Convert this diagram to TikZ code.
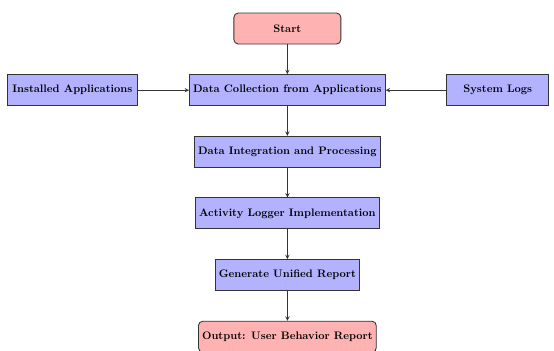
\documentclass[tikz,border=0pt]{standalone}
\usepackage{amsmath}
\usetikzlibrary{positioning, arrows.meta}

\begin{document}
\begin{tikzpicture}[
	node distance=0.96cm,
	startstop/.style={rectangle, rounded corners, minimum width=3.45cm, minimum height=1cm, text centered, draw=black!80, thick, fill=red!30, font=\bfseries},
	process/.style={rectangle, minimum width=3.3cm, minimum height=1cm, text centered, draw=black!80, thick, fill=blue!30, font=\bfseries},
	arrow/.style={thick, -stealth, black!80}
	]
	% Fix the page size
	\useasboundingbox (-9.27, 0.92) rectangle (8.6, -10.37);
	
	% Main chain
	\node (start) [startstop] {Start};
	\node (collect) [process, below=of start] {Data Collection from Applications};
	\node (integrate) [process, below=of collect] {Data Integration and Processing};
	\node (logger) [process, below=of integrate] {Activity Logger Implementation};
	\node (report) [process, below=of logger] {Generate Unified Report};
	\node (output) [startstop, below=of report] {Output: User Behavior Report};
	
	% Side inputs
	\node (apps) [process, left=1.65cm of collect, minimum width=4.2cm] {Installed Applications};
	\node (logs) [process, right=1.95cm of collect] {System Logs};
	
	% Arrows
	\draw[arrow] (start) -- (collect);
	\draw[arrow] (collect) -- (integrate);
	\draw[arrow] (integrate) -- (logger);
	\draw[arrow] (logger) -- (report);
	\draw[arrow] (report) -- (output);
	\draw[arrow] (apps) -- (collect);
	\draw[arrow] (logs) -- (collect);
\end{tikzpicture}
\end{document}
